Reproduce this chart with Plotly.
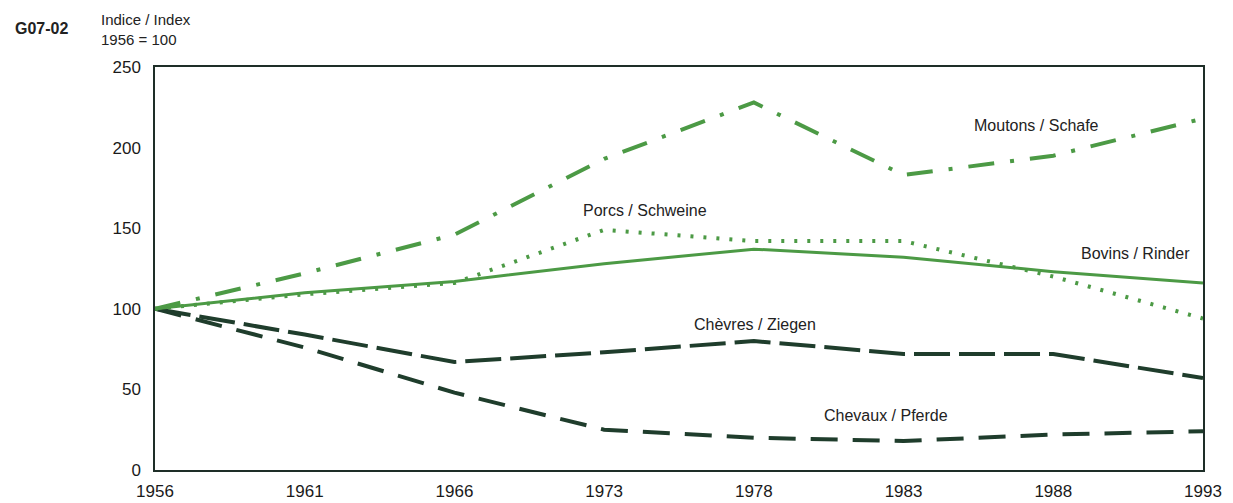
import plotly.graph_objects as go

years = ["1956", "1961", "1966", "1973", "1978", "1983", "1988", "1993"]

moutons = [100, 122, 146, 193, 228, 183, 195, 218]
porcs = [100, 109, 116, 149, 142, 142, 120, 94]
bovins = [100, 110, 117, 128, 137, 132, 123, 116]
chevres = [100, 84, 67, 73, 80, 72, 72, 57]
chevaux = [100, 76, 48, 25, 20, 18, 22, 24]

light = "#4c9a45"
dark = "#1f3d2c"
sans = "Liberation Sans, Arial"

fig = go.Figure()

# order: dark lines first so the green ones sit on top
fig.add_trace(go.Scatter(x=years, y=chevaux, mode="lines",
                         line=dict(color=dark, width=4, dash="27px,15px")))
fig.add_trace(go.Scatter(x=years, y=chevres, mode="lines",
                         line=dict(color=dark, width=4, dash="36px,9px")))
fig.add_trace(go.Scatter(x=years, y=bovins, mode="lines",
                         line=dict(color=light, width=3)))
fig.add_trace(go.Scatter(x=years, y=porcs, mode="lines",
                         line=dict(color=light, width=4, dash="3px,10px")))
fig.add_trace(go.Scatter(x=years, y=moutons, mode="lines",
                         line=dict(color=light, width=4, dash="26px,16px,4px,16px")))

labels = [
    ("Moutons / Schafe", 5.885, 214),
    ("Porcs / Schweine", 3.27, 161),
    ("Bovins / Rinder", 6.55, 134),
    ("Chèvres / Ziegen", 4.01, 90),
    ("Chevaux / Pferde", 4.88, 34),
]
for txt, lx, ly in labels:
    fig.add_annotation(x=lx, y=ly, xref="x", yref="y", text=txt, showarrow=False,
                       font=dict(family=sans, size=16, color="#222"))

# header texts, placed relative to the plot's top-left corner
fig.add_annotation(x=0, y=1, xref="paper", yref="paper", text="<b>G07-02</b>",
                   showarrow=False, xanchor="left", yanchor="middle",
                   xshift=-142, yshift=39,
                   font=dict(family=sans, size=16, color="#222"))
fig.add_annotation(x=0, y=1, xref="paper", yref="paper", text="Indice / Index<br>1956 = 100",
                   showarrow=False, xanchor="left", yanchor="bottom", align="left",
                   xshift=-56, yshift=17,
                   font=dict(family=sans, size=15, color="#222"))

# the page body adds an 8px margin, so the figure is 8px smaller each way
fig.update_layout(
    width=1225, height=495,
    margin=dict(l=147, r=30, t=59, b=33),
    paper_bgcolor="white", plot_bgcolor="white",
    showlegend=False,
    font=dict(family=sans, size=17, color="#1a1a1a"),
    xaxis=dict(type="category", range=[0, 7], showgrid=False, zeroline=False,
               showline=True, mirror=True, linecolor="#1e2e28", linewidth=1.5,
               ticks="outside", ticklen=5, tickcolor="rgba(0,0,0,0)",
               tickfont=dict(size=17), automargin=False),
    yaxis=dict(range=[0, 250], tickvals=[0, 50, 100, 150, 200, 250],
               showgrid=False, zeroline=False,
               showline=True, mirror=True, linecolor="#1e2e28", linewidth=1.5,
               ticks="outside", ticklen=9, tickcolor="rgba(0,0,0,0)",
               tickfont=dict(size=17), automargin=False),
)

fig.write_html("out.html")
